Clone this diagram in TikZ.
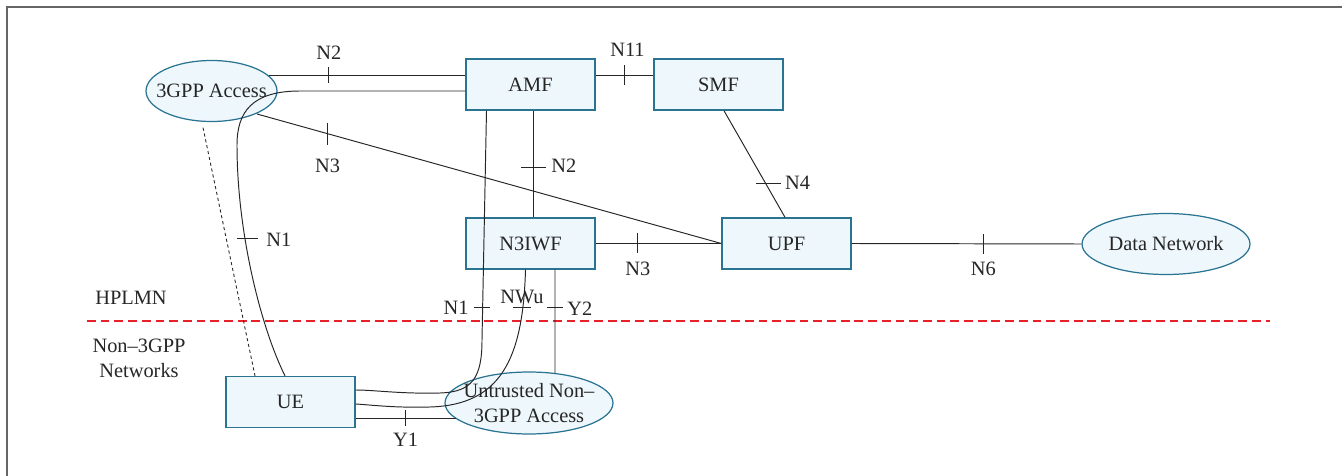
\documentclass[tikz,border=0pt]{standalone}
\usepackage{fontspec}
\setmainfont{Liberation Serif}
\usetikzlibrary{shapes.geometric,calc}
\definecolor{boxfill}{HTML}{EEF7FC}
\definecolor{boxline}{HTML}{2A7391}
\definecolor{txt}{HTML}{262626}
\definecolor{reddash}{HTML}{E8202A}
\begin{document}
\begin{tikzpicture}[x=0.02cm,y=-0.02cm,
  every node/.style={text=txt,font=\fontsize{11.6}{14.2}\selectfont},
  nfbox/.style={draw=boxline,fill=boxfill,line width=0.8pt,minimum width=2.58cm,minimum height=1.02cm,inner sep=0pt},
  nfell/.style={ellipse,draw=boxline,fill=boxfill,line width=0.7pt,inner sep=0pt},
  conn/.style={draw=black!85,line width=0.55pt},
  tick/.style={draw=black!85,line width=0.55pt},
  lbl/.style={inner sep=0pt}
]
\useasboundingbox (0,0) rectangle (1342,476);
\draw[black!60,line width=0.9pt] (1342,7) -- (7,7) -- (7,476);

% nodes
\node[nfell,minimum width=2.62cm,minimum height=1.22cm] (g3) at (211.5,91) {};
\node[lbl] (g3t) at (g3.center) {3GPP Access};
\node[nfbox] (amf) at (530.5,84.5) {AMF};
\node[nfbox] (smf) at (718.5,84.5) {SMF};
\node[nfbox] (n3iwf) at (530.5,243.5) {N3IWF};
\node[nfbox] (upf) at (786.5,243.5) {UPF};
\node[nfell,minimum width=3.36cm,minimum height=1.22cm] (dn) at (1166,244) {};
\node[lbl] (dnt) at (dn.center) {Data Network};
\node[nfbox] (ue) at (290.5,402) {UE};
\node[nfell,minimum width=3.36cm,minimum height=1.24cm] (un) at (529,403) {};
\node[lbl,align=center] (unt) at (un.center) {Untrusted Non–\\3GPP Access};

% region labels
\node[lbl] (hplmn) at (131,298) {HPLMN};
\node[lbl,align=center] (non3) at (139,358) {Non–3GPP\\Networks};
\draw[reddash,line width=1.1pt,dash pattern=on 5pt off 2.8pt] (87,321) -- (1270,321);

% 3GPP Access - AMF (N2)
\draw[conn] ($(g3.center)+(57,-16)$) -- coordinate[pos=0.307] (tn2a) ($(amf.west)+(0,-9.5)$);
\draw[tick] ($(tn2a)+(0,-8)$) -- ($(tn2a)+(0,8)$);
\node[lbl] (ln2a) at ($(tn2a)+(0,-22)$) {N2};

% AMF - UE (N1 over 3GPP access)
\draw[conn] ($(amf.west)+(0,6.5)$) -- (300,91) .. controls (252,91) and (237,112) .. (237,145)
   .. controls (237,235) and (262,330) .. ($(ue.north)+(-5.5,0)$);
\draw[tick] (237,238) -- (258,238);
\node[lbl,anchor=west] (ln1a) at (266,240) {N1};

% 3GPP Access - UE (dashed)
\draw[black!85,line width=0.5pt,dash pattern=on 1.8pt off 1.6pt] ($(g3.south)+(-8.5,5.5)$) -- ($(ue.north)+(-35.5,0)$);

% 3GPP Access - UPF (N3)
\draw[conn] ($(g3.center)+(45.5,23)$) -- coordinate[pos=0.152] (tn3a) (upf.west);
\draw[tick] ($(tn3a)+(0,-11)$) -- ($(tn3a)+(0,11)$);
\node[lbl] (ln3a) at ($(tn3a)+(0,32)$) {N3};

% AMF - SMF (N11)
\draw[conn] ($(amf.east)+(0,-9.5)$) -- coordinate[pos=0.5] (tn11) ($(smf.west)+(0,-9.5)$);
\draw[tick] ($(tn11)+(0,-10)$) -- ($(tn11)+(0,10)$);
\node[lbl] (ln11) at ($(tn11)+(3,-25)$) {N11};

% AMF - N3IWF (N2)
\draw[conn] ($(amf.south)+(2.5,0)$) -- coordinate[pos=0.53] (tn2b) ($(n3iwf.north)+(2.5,0)$);
\draw[tick] ($(tn2b)+(-12,0)$) -- ($(tn2b)+(13,0)$);
\node[lbl,anchor=west] (ln2b) at ($(tn2b)+(18,-1)$) {N2};

% SMF - UPF (N4)
\draw[conn] ($(smf.south)+(5.5,0)$) -- coordinate[pos=0.685] (tn4) ($(upf.north)+(-1.5,0)$);
\draw[tick] ($(tn4)+(-10,0)$) -- ($(tn4)+(15,0)$);
\node[lbl,anchor=west] (ln4) at ($(tn4)+(19,-1)$) {N4};

% N3IWF - UPF (N3)
\draw[conn] (n3iwf.east) -- coordinate[pos=0.336] (tn3b) (upf.west);
\draw[tick] ($(tn3b)+(0,-10)$) -- ($(tn3b)+(0,10)$);
\node[lbl] (ln3b) at ($(tn3b)+(0,25)$) {N3};

% UPF - Data Network (N6)
\draw[conn] (upf.east) -- coordinate[pos=0.573] (tn6) (dn.west);
\draw[tick] ($(tn6)+(0,-10)$) -- ($(tn6)+(0,10)$);
\node[lbl] (ln6) at ($(tn6)+(0,25)$) {N6};

% AMF - UE via untrusted access (N1)
\draw[conn] ($(amf.south)+(-44,0)$) -- (482,340) .. controls (482,378) and (472,392) .. (440,393)
   .. controls (400,394) and (375,390) .. ($(ue.east)+(0,-12)$);
\draw[tick] (474,307) -- (490,307);
\node[lbl,anchor=east] (ln1b) at (469,308) {N1};

% N3IWF - UE (NWu)
\draw[conn] ($(n3iwf.south)+(-5,0)$) .. controls (523,360) and (500,405) .. (430,407)
   .. controls (395,408) and (372,405) .. ($(ue.east)+(0,2)$);
\draw[tick] (513,307) -- (531,307);
\node[lbl] (lnwu) at (522,297) {NWu};

% N3IWF - Untrusted (Y2)
\draw[conn] ($(n3iwf.south)+(24.5,0)$) -- coordinate[pos=0.367] (ty2) ($(un.center)+(26,-29.5)$);
\draw[tick] ($(ty2)+(-8,0)$) -- ($(ty2)+(8,0)$);
\node[lbl,anchor=west] (ly2) at ($(ty2)+(12,1)$) {Y2};

% UE - Untrusted (Y1)
\draw[conn] ($(ue.east)+(0,16)$) -- coordinate[pos=0.5] (ty1) ($(un.center)+(-73.5,15)$);
\draw[tick] ($(ty1)+(0,-8)$) -- ($(ty1)+(0,8)$);
\node[lbl] (ly1) at ($(ty1)+(0,22)$) {Y1};
\end{tikzpicture}
\end{document}
